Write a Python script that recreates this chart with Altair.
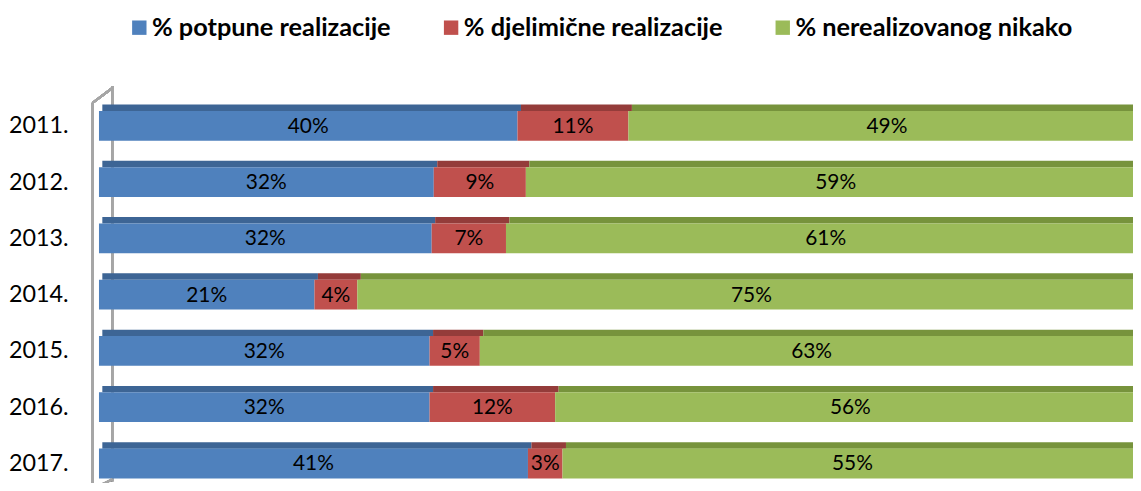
import altair as alt
import pandas as pd

years = ["2011.", "2012.", "2013.", "2014.", "2015.", "2016.", "2017."]
series = ["% potpune realizacije", "% djelimične realizacije", "% nerealizovanog nikako"]
full = [40.0, 32.0, 31.8, 20.6, 31.6, 31.6, 41.0]
partial = [10.6, 8.8, 7.1, 4.1, 4.8, 12.0, 3.3]
none_ = [49.4, 59.2, 61.1, 75.3, 63.4, 56.4, 55.4]

front_colors = ["#4f81bd", "#c0504d", "#9bbb59"]
top_colors = ["#3d6595", "#943c3a", "#77933c"]

rows = []
for i, y in enumerate(years):
    start = 0.0
    for s, vals in zip(series, [full, partial, none_]):
        v = vals[i]
        rows.append({"year": y, "idx": i, "series": s, "order": series.index(s),
                     "value": v, "start": start, "end": start + v,
                     "mid": start + v / 2})
        start += v
df = pd.DataFrame(rows)

W = 1041.5
H = 398
xdom = [0, 98.81]
ydom = [-0.706, 6.317]

xs = alt.Scale(domain=xdom, nice=False, zero=False, padding=0)
ys = alt.Scale(domain=ydom, nice=False, zero=False, reverse=True, padding=0)

label_expr = "[" + ",".join("'%s'" % y for y in years) + "][datum.value]"

base = alt.Chart(df)

color = alt.Color("series:N", scale=alt.Scale(domain=series, range=front_colors),
                  sort=series,
                  legend=alt.Legend(orient="none", legendX=28, legendY=-72,
                                    direction="horizontal", title=None,
                                    symbolType="square", symbolSize=210,
                                    symbolStrokeWidth=0, symbolOpacity=1,
                                    labelFont="Lato", labelFontWeight="bold",
                                    labelFontSize=25.5, labelColor="#000000",
                                    labelOffset=0, columnPadding=47,
                                    labelLimit=500))

# left wall lines (decoration)
wall_color = "#a6a6a6"
back_line = base.mark_rule(color=wall_color, strokeWidth=2).encode(
    x=alt.value(13.5), y=alt.value(0), y2=alt.value(H))
front_line = base.mark_rule(color=wall_color, strokeWidth=2).encode(
    x=alt.value(-6.5), y=alt.value(17), y2=alt.value(H + 10))
top_diag = base.mark_rule(color=wall_color, strokeWidth=2).encode(
    x=alt.value(-6.5), x2=alt.value(13.5), y=alt.value(17), y2=alt.value(2))
bot_diag = base.mark_rule(color=wall_color, strokeWidth=2).encode(
    x=alt.value(-6.5), x2=alt.value(13.5), y=alt.value(H + 8), y2=alt.value(H - 2))

top_face = base.mark_bar(size=6.5, yOffset=-18.2, y2Offset=-18.2, xOffset=3.5,
                         x2Offset=3.5, clip=True).encode(
    x=alt.X("start:Q", scale=xs, axis=None),
    x2="end:Q",
    y=alt.Y("idx:Q", scale=ys,
            axis=alt.Axis(values=list(range(len(years))), labelExpr=label_expr,
                          domain=False, ticks=False, grid=False, title=None,
                          labelFont="Lato", labelFontSize=23.5,
                          labelColor="#000000", labelPadding=31, labelBaseline="middle")),
    color=alt.Color("series:N", scale=alt.Scale(domain=series, range=top_colors),
                    legend=None),
    order="order:Q",
)

front = base.mark_bar(size=30, clip=True).encode(
    x=alt.X("start:Q", scale=xs),
    x2="end:Q",
    y=alt.Y("idx:Q", scale=ys),
    color=color,
    order="order:Q",
)

labels = base.transform_calculate(
    lbl="format(datum.value, '.0f') + '%'"
).mark_text(font="Lato", fontSize=21, color="#000000",
            baseline="middle", align="center", dy=1).encode(
    x=alt.X("mid:Q", scale=xs),
    y=alt.Y("idx:Q", scale=ys),
    text="lbl:N",
)

chart = alt.layer(back_line, top_face, front, labels, front_line, top_diag, bot_diag).resolve_scale(
    color="independent"
).properties(
    width=W, height=H,
    autosize=alt.AutoSizeParams(type="none"),
    padding={"left": 91.5, "top": 77, "right": 0, "bottom": 0},
    background="#ffffff",
).configure_view(stroke=None)

chart.save("out.html", embed_options={"renderer": "svg", "actions": False})
